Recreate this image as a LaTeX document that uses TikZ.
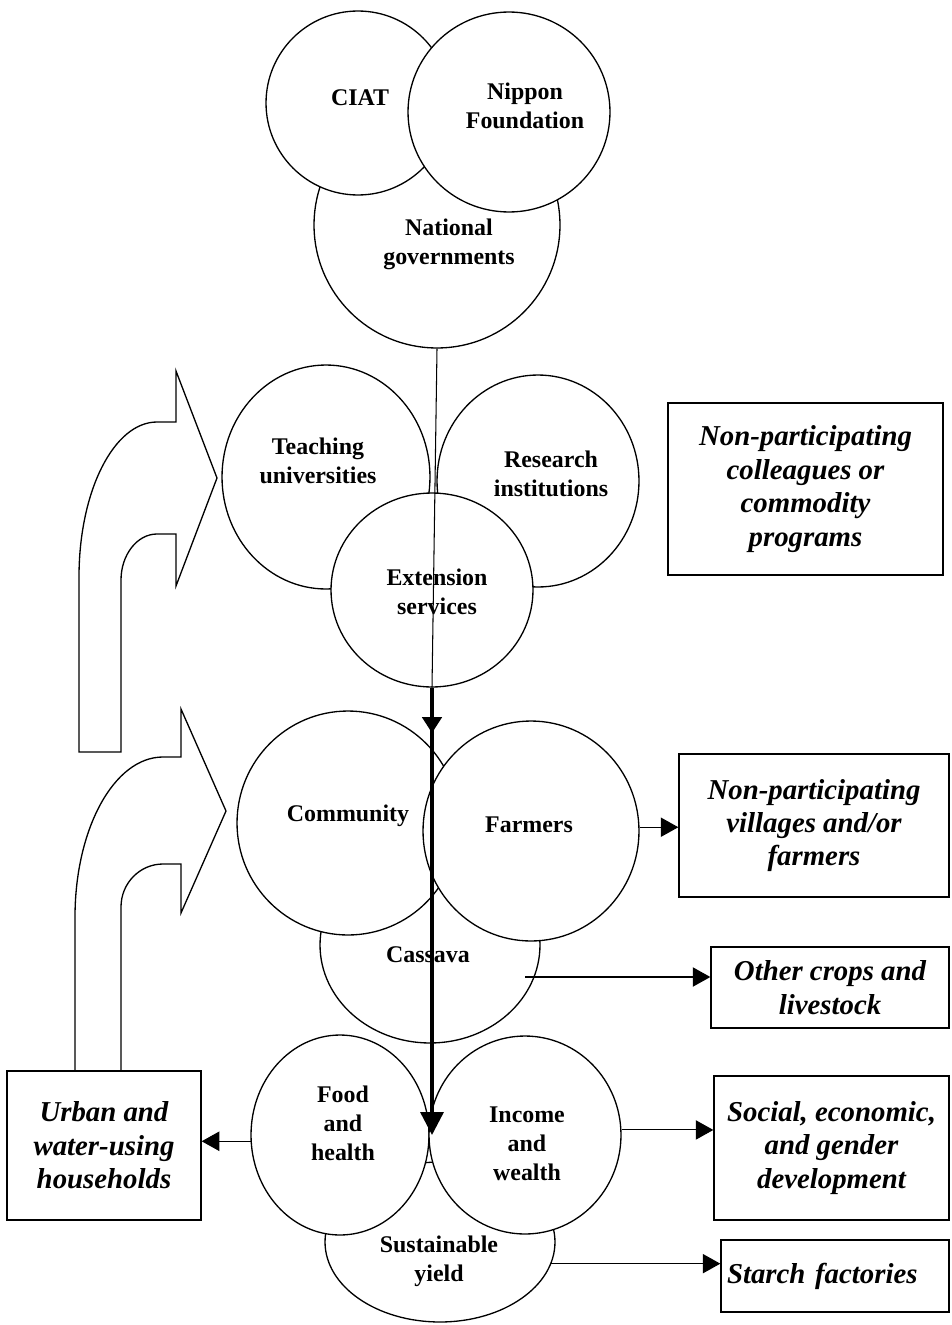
\documentclass[tikz,border=0pt]{standalone}
\usepackage{fontspec}
\setmainfont{Liberation Serif}
\usetikzlibrary{shapes.geometric,arrows.meta}

\begin{document}
\begin{tikzpicture} [x=0.02cm, y=-0.02cm]
        \tikzset{
          blob/.style={draw, ellipse, fill=white, line width=0.75pt, inner sep=0pt},
          tag/.style={font=\fontsize{13.6}{16.4}\selectfont\bfseries, align=center, inner sep=0pt},
          outbox/.style={draw, fill=white, line width=0.8pt, align=center,
            font=\fontsize{16.4}{19}\selectfont\bfseries\itshape},
          link/.style={line width=0.6pt, -{Triangle[length=10pt,width=11pt]}},
          flow/.style={line width=1.9pt},
          uturn/.style={line width=0.75pt, line join=miter},
        }
        \useasboundingbox (0,0) rectangle (951,1325);
        % 
        \node [blob, minimum width=49.2mm, minimum height=49.2mm] (gov) at (437,225) {};
        \node [blob, minimum width=36.8mm, minimum height=36.8mm] (ciat) at (358,103) {};
        \node [blob, minimum width=40.4mm, minimum height=40mm] (nippon) at (509,112) {};
        % 
        \node [blob, minimum width=41.6mm, minimum height=44.8mm] (teach) at (326,477) {};
        \node [blob, minimum width=40.4mm, minimum height=42.4mm] (research) at (538,481) {};
        \node [blob, minimum width=40.4mm, minimum height=38.8mm] (ext) at (432,590) {};
        % 
        \node [blob, minimum width=44mm, minimum height=39.2mm] (cassava) at (430,945) {};
        \node [blob, minimum width=44.4mm, minimum height=44.8mm] (comm) at (348,823) {};
        \node [blob, minimum width=43.2mm, minimum height=44mm] (farmers) at (531,831) {};
        % 
        \node [blob, minimum width=46mm, minimum height=32mm] (sust) at (440,1242) {};
        \node [blob, minimum width=35.6mm, minimum height=40mm] (food) at (340,1135) {};
        \node [blob, minimum width=38.4mm, minimum height=39.6mm] (income) at (525,1135) {};
        % 
        \node [tag] (ciat-t) at (360,98) {CIAT};
        \node [tag] (nippon-t) at (525,106) {Nippon\\Foundation};
        \node [tag] (gov-t) at (449,244) {National\\governments};
        \node [tag] (teach-t) at (318,461) {Teaching\\universities};
        \node [tag] (research-t) at (551,474) {Research\\institutions};
        \node [tag] (ext-t) at (437,592) {Extension\\services};
        \node [tag] (comm-t) at (348,816) {Community};
        \node [tag] (farmers-t) at (529,825) {Farmers};
        \node [tag] (cassava-t) at (428,955) {Cassava};
        \node [tag] (food-t) at (343,1123) {Food\\and\\health};
        \node [tag] (income-t) at (527,1144) {Income\\and\\wealth};
        \node [tag] (sust-t) at (439,1261) {Sustainable\\yield};
        % 
        \draw [uturn] (79,752) -- (79,577) .. controls (79,491) and (114,422) .. (157,422)
          -- (176,422) -- (176,371) -- (217,478) -- (176,586) -- (176,534) -- (157,534)
          .. controls (137,534) and (121,555) .. (121,580) -- (121,752) -- cycle;
        \draw [uturn] (75,1071) -- (75,917) .. controls (75,829) and (114,757) .. (163,757)
          -- (181,757) -- (181,709) -- (226,811) -- (181,913) -- (181,864) -- (163,864)
          .. controls (140,864) and (121,883) .. (121,907) -- (121,1071);
        % 
        \node [outbox, minimum width=55mm, minimum height=34.4mm] (peers) at (805.5,489) {Non-participating\\colleagues or\\commodity\\programs};
        \node [outbox, minimum width=54mm, minimum height=28.6mm] (villages) at (814,825.5) {Non-participating\\villages and/or\\farmers};
        \node [outbox, minimum width=47.6mm, minimum height=16.2mm] (crops) at (830,987.5) {Other crops and\\livestock};
        \node [outbox, minimum width=47mm, minimum height=28.8mm] (social) at (831.5,1148) {Social, economic,\\and gender\\development};
        \node [outbox, minimum width=45.6mm, minimum height=14.4mm, text width=43.2mm, inner xsep=1.2mm, align=left] (starch) at (835,1276) {Starch factories};
        \node [outbox, minimum width=38.8mm, minimum height=29.8mm] (urban) at (104,1145.5) {Urban and\\water-using\\households};
        % 
        \coordinate (midtip) at (432,733);
        \coordinate (meet) at (432,1135);
        \coordinate (cas-out) at (525,977);
        \draw [line width=0.6pt] (gov.south) -- (ext.south);
        \draw [flow, -{Triangle[length=9pt,width=11pt]}] (ext.south) -- (midtip);
        \draw [flow, -{Triangle[length=13pt,width=13pt]}] (ext.south) -- (meet);
        % 
        \draw [link] (farmers.2) -- (farmers.2 -| villages.west);
        \draw [link] (cas-out) -- (cas-out -| crops.west);
        \draw [link] (income.3) -- (income.3 -| social.west);
        \draw [link] (sust.-11) -- (sust.-11 -| starch.west);
        \draw [link] (food.184) -- (food.184 -| urban.east);
    \end{tikzpicture}
\end{document}
